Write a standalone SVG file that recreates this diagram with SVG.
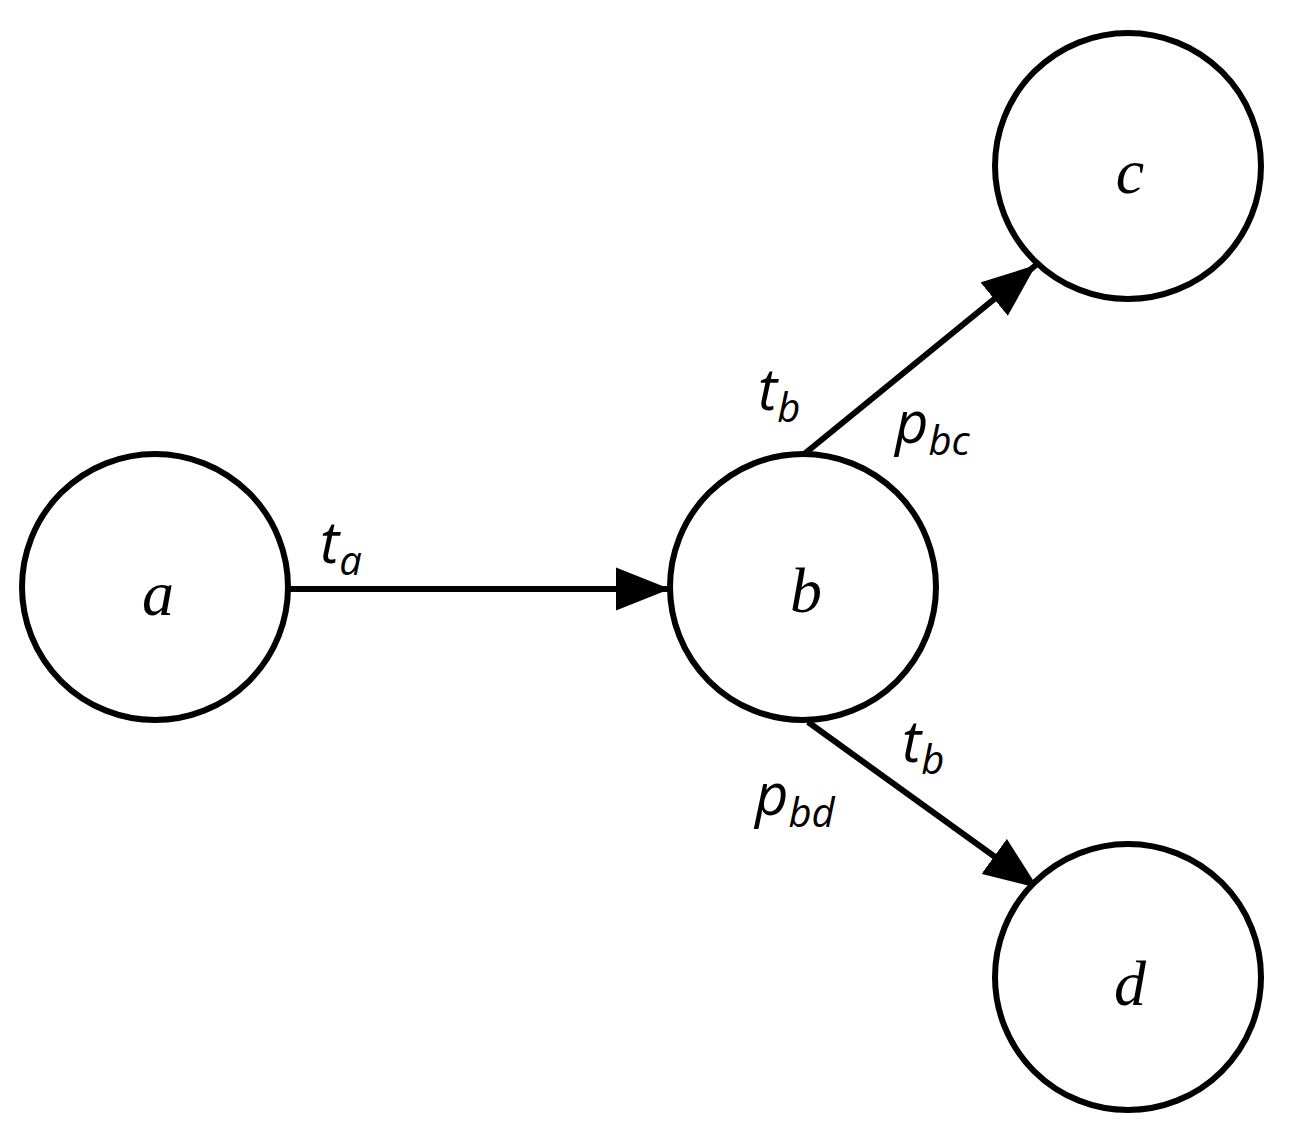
<svg xmlns="http://www.w3.org/2000/svg" width="1304" height="1146" viewBox="0 0 1304 1146">
<style>
.n{fill:#fff;stroke:#000;stroke-width:6}
.nl{font-family:"Liberation Serif",serif;font-style:italic;font-size:64px;text-anchor:middle}
.el{font-family:"Open Sans","Liberation Sans",sans-serif;font-style:italic;font-size:58px}
.sub{font-size:40px}
.c{stroke:#000;stroke-width:6;fill:none;marker-end:url(#ah)}
</style>
<defs><marker id="ah" markerWidth="10" markerHeight="8" refX="10" refY="4" orient="auto" markerUnits="userSpaceOnUse" viewBox="0 0 10 8"><path d="M0,0L10,4L0,8z"/></marker>
<marker id="a2" viewBox="0 0 10 8" refX="10" refY="4" markerWidth="54" markerHeight="44" orient="auto" markerUnits="userSpaceOnUse"><path d="M0,0L10,4L0,8z"/></marker></defs>
<rect width="1304" height="1146" fill="#fff"/>
<g id="connectors">
<path class="c" style="marker-end:url(#a2)" d="M290,589L670,589"/>
<path class="c" style="marker-end:url(#a2)" d="M803,455L1036,265"/>
<path class="c" style="marker-end:url(#a2)" d="M808,722L1038,888"/>
</g>
<g id="a"><circle class="n" cx="155" cy="587" r="133"/><text class="nl" x="158" y="615">a</text></g>
<g id="b"><circle class="n" cx="803" cy="587" r="133"/><text class="nl" x="806" y="612">b</text></g>
<g id="c"><circle class="n" cx="1128" cy="166" r="133"/><text class="nl" x="1130" y="193">c</text></g>
<g id="d"><circle class="n" cx="1128" cy="977" r="133"/><text class="nl" x="1130" y="1005">d</text></g>
<g id="labels">
<text class="el" x="320" y="563">t<tspan class="sub" dy="12">a</tspan></text>
<text class="el" x="758" y="410">t<tspan class="sub" dy="12">b</tspan></text>
<text class="el" x="895" y="443">p<tspan class="sub" dy="12">bc</tspan></text>
<text class="el" x="902" y="762">t<tspan class="sub" dy="12">b</tspan></text>
<text class="el" x="755" y="815">p<tspan class="sub" dy="12">bd</tspan></text>
</g>
</svg>
